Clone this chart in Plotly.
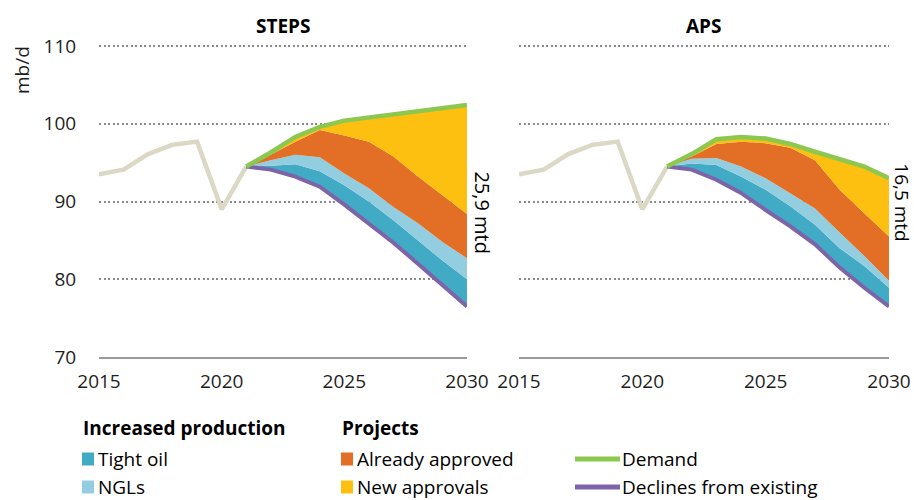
import plotly.graph_objects as go
import numpy as np

# Historical world oil supply, mb/d
hist_years = [2015, 2016, 2017, 2018, 2019, 2020, 2021]
hist_supply = [93.5, 94.1, 96.1, 97.3, 97.7, 89.0, 94.5]

proj_years = list(range(2021, 2031))

# STEPS scenario
steps_declines = [94.5, 94.1, 93.2, 91.9, 89.6, 87.2, 84.7, 82.0, 79.2, 76.5]
steps_tight_oil = [0, 0.5, 1.6, 2.0, 2.5, 2.8, 2.9, 3.0, 3.2, 3.5]
steps_ngls = [0, 0.7, 1.2, 1.8, 1.5, 1.7, 1.7, 2.2, 2.4, 2.7]
steps_approved = [0, 0.7, 1.7, 3.5, 4.9, 6.0, 6.5, 6.0, 6.0, 5.7]
steps_demand = [94.5, 96.3, 98.3, 99.6, 100.4, 100.8, 101.3, 101.7, 102.1, 102.4]

# APS scenario
aps_declines = [94.5, 94.1, 92.8, 91.1, 88.9, 86.8, 84.5, 81.5, 78.9, 76.5]
aps_tight_oil = [0, 0.8, 1.9, 2.1, 2.6, 2.6, 2.5, 2.5, 2.8, 2.4]
aps_ngls = [0, 0.6, 0.9, 1.3, 1.5, 1.7, 2.1, 2.0, 1.3, 0.9]
aps_approved = [0, 0.3, 1.8, 3.2, 4.5, 5.8, 6.2, 5.5, 5.5, 5.7]
aps_demand = [94.5, 96.1, 98.0, 98.3, 98.1, 97.4, 96.4, 95.5, 94.5, 93.0]

scenario_titles = ["STEPS", "APS"]
x_ticks = [2015, 2020, 2025, 2030]
y_ticks = [70, 80, 90, 100, 110]

COLORS = {
    "tight": "#41abc6",
    "ngl": "#93cee0",
    "approved": "#e36f26",
    "new": "#fdc010",
    "demand": "#8cc850",
    "declines": "#7d63a7",
    "hist": "#dcd8c6",
    "grid": "#8a8a8a",
    "axis": "#9a9a9a",
    "text": "#1e1e1e",
}
FONT = "Open Sans"

W, H = 914, 500
M_TOP, M_BOT = 38, 143
PLOT_H = H - M_TOP - M_BOT
Y_MIN = 70
Y_MAX = Y_MIN + PLOT_H / 7.775

fig = go.Figure()


def add_panel(n, declines, tight, ngls, approved, demand):
    xa = "x" if n == 1 else "x2"
    ya = "y" if n == 1 else "y2"
    base = np.array(declines)
    tight_top = base + np.array(tight)
    ngl_top = tight_top + np.array(ngls)
    appr_top = ngl_top + np.array(approved)
    common = dict(x=proj_years, xaxis=xa, yaxis=ya, mode="lines",
                  showlegend=False, hoverinfo="skip")
    fig.add_trace(go.Scatter(y=base, line=dict(width=0), **common))
    fig.add_trace(go.Scatter(y=tight_top, fill="tonexty",
                             fillcolor=COLORS["tight"], line=dict(width=0), **common))
    fig.add_trace(go.Scatter(y=ngl_top, fill="tonexty",
                             fillcolor=COLORS["ngl"], line=dict(width=0), **common))
    fig.add_trace(go.Scatter(y=appr_top, fill="tonexty",
                             fillcolor=COLORS["approved"], line=dict(width=0), **common))
    fig.add_trace(go.Scatter(y=demand, fill="tonexty",
                             fillcolor=COLORS["new"], line=dict(width=0), **common))
    fig.add_trace(go.Scatter(x=hist_years, y=hist_supply, xaxis=xa, yaxis=ya,
                             mode="lines", showlegend=False, hoverinfo="skip",
                             line=dict(color=COLORS["hist"], width=4.5)))
    fig.add_trace(go.Scatter(y=declines, line=dict(color=COLORS["declines"], width=4), **common))
    fig.add_trace(go.Scatter(y=demand, line=dict(color=COLORS["demand"], width=4.5), **common))

    # gap between demand and declines in 2030, written beside the panel
    gap = demand[-1] - declines[-1]
    label = f"{gap:.1f}".replace(".", ",") + " mtd"
    fig.add_annotation(x=2030, y=88.6 if n == 1 else 89.9, xref=xa, yref=ya,
                       text=label, textangle=90, showarrow=False,
                       xanchor="center", yanchor="middle", borderpad=0,
                       xshift=16 if n == 1 else 13,
                       font=dict(family=FONT, size=19 if n == 2 else 20, color="#000"))


add_panel(1, steps_declines, steps_tight_oil, steps_ngls, steps_approved, steps_demand)
add_panel(2, aps_declines, aps_tight_oil, aps_ngls, aps_approved, aps_demand)

left_dom = [99 / W, 467 / W]
right_dom = [519 / W, 889 / W]

xaxis_common = dict(range=[2015, 2030], tickvals=x_ticks, showgrid=False,
                    showline=True, linecolor=COLORS["axis"], linewidth=1.5,
                    ticks="outside", ticklen=6, tickcolor="rgba(0,0,0,0)",
                    tickfont=dict(family=FONT, size=19, color=COLORS["text"]),
                    zeroline=False, fixedrange=True, automargin=False)
yaxis_common = dict(range=[Y_MIN, Y_MAX], tickvals=y_ticks, showgrid=True,
                    gridcolor=COLORS["grid"], gridwidth=2, griddash="2px,2.5px",
                    zeroline=False, fixedrange=True, automargin=False,
                    ticks="outside", ticklen=18, tickcolor="rgba(0,0,0,0)",
                    tickfont=dict(family=FONT, size=19, color=COLORS["text"]))

fig.update_layout(
    width=W, height=H,
    margin=dict(l=0, r=0, t=M_TOP, b=M_BOT),
    plot_bgcolor="white", paper_bgcolor="white",
    font=dict(family=FONT, color=COLORS["text"]),
    xaxis=dict(domain=left_dom, anchor="y", **xaxis_common),
    xaxis2=dict(domain=right_dom, anchor="y2", **xaxis_common),
    yaxis=dict(anchor="x", **yaxis_common),
    yaxis2=dict(anchor="x2", matches="y", showticklabels=False, **yaxis_common),
)


def px(x):
    return x / W


def py(y):
    # pixel row from the top of the page -> paper fraction of the plot area
    return (H - M_BOT - y) / PLOT_H


def note(x, y, text, size, xanchor="left", angle=0, color="#000"):
    fig.add_annotation(x=px(x), y=py(y), xref="paper", yref="paper", text=text,
                       showarrow=False, xanchor=xanchor, yanchor="middle",
                       textangle=angle, borderpad=0,
                       font=dict(family=FONT, size=size, color=color))


# Panel titles
for dom, title in zip([left_dom, right_dom], scenario_titles):
    note((dom[0] + dom[1]) / 2 * W, 26, f"<b>{title}</b>", 19, xanchor="center")

# Unit label
note(22, 70, "mb/d", 19, xanchor="center", angle=-90, color=COLORS["text"])

# Legend
LEG = 19
note(82, 428, "<b>Increased production</b>", LEG)
note(341, 428, "<b>Projects</b>", LEG)

box_items = [("Tight oil", COLORS["tight"], 82, 459), ("NGLs", COLORS["ngl"], 82, 487),
             ("Already approved", COLORS["approved"], 341, 459),
             ("New approvals", COLORS["new"], 341, 487)]
for text, color, x0, yc in box_items:
    fig.add_shape(type="rect", xref="paper", yref="paper",
                  x0=px(x0), x1=px(x0 + 12), y0=py(yc + 6.5), y1=py(yc - 6.5),
                  fillcolor=color, line=dict(width=0))
    note(x0 + 15, yc, text, LEG)

line_items = [("Demand", COLORS["demand"], 459), ("Declines from existing", COLORS["declines"], 487)]
for text, color, yc in line_items:
    fig.add_shape(type="line", xref="paper", yref="paper",
                  x0=px(575), x1=px(620), y0=py(yc), y1=py(yc),
                  line=dict(color=color, width=5))
    note(621, yc, text, LEG)

fig.write_html("out.html")
